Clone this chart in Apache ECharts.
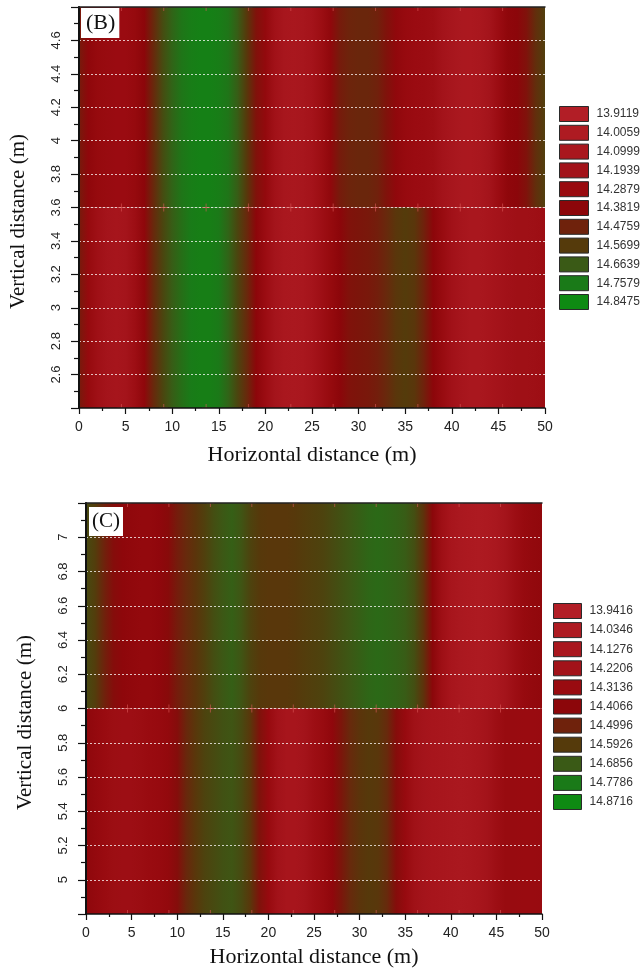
<!DOCTYPE html>
<html><head><meta charset="utf-8">
<script src="https://cdn.jsdelivr.net/npm/echarts@6/dist/echarts.min.js"></script>
<style>html,body{margin:0;padding:0;background:#fff}#c{width:641px;height:970px}</style>
</head><body><div id="c"></div>
<script>
// sample positions along the profile (m)
var xs = [0,1,2,3,4,5,6,7,8,9,10,11,12,13,14,15,16,17,18,19,20,21,22,23,24,25,26,27,28,29,30,31,32,33,34,35,36,37,38,39,40,41,42,43,44,45,46,47,48,49,50];

// panel (B): values read above / below the 3.6 m boundary
var bUpper = [14.45,14.36,14.31,14.29,14.28,14.28,14.31,14.38,14.50,14.62,
              14.69,14.74,14.77,14.79,14.79,14.77,14.74,14.67,14.56,14.42,
              14.33,14.20,14.12,14.10,14.12,14.17,14.25,14.35,14.45,14.48,
              14.49,14.49,14.47,14.42,14.35,14.30,14.28,14.27,14.24,14.18,
              14.12,14.08,14.07,14.09,14.16,14.27,14.36,14.38,14.42,14.52,
              14.58];
var bLower = [14.45,14.31,14.22,14.16,14.14,14.16,14.24,14.36,14.50,14.60,
              14.67,14.72,14.76,14.78,14.78,14.75,14.69,14.60,14.50,14.38,
              14.27,14.16,14.10,14.08,14.10,14.15,14.23,14.31,14.38,14.42,
              14.43,14.44,14.46,14.50,14.55,14.57,14.55,14.47,14.38,14.29,
              14.20,14.14,14.10,14.10,14.13,14.17,14.20,14.22,14.22,14.23,
              14.26];
// panel (C): values read above / below the 6 m boundary
var cUpper = [14.64,14.60,14.50,14.43,14.39,14.37,14.36,14.36,14.38,14.42,
              14.48,14.53,14.57,14.61,14.65,14.68,14.70,14.67,14.62,14.59,
              14.58,14.58,14.58,14.59,14.60,14.61,14.62,14.64,14.66,14.68,
              14.70,14.72,14.73,14.72,14.71,14.69,14.65,14.56,14.41,14.26,
              14.16,14.10,14.07,14.06,14.08,14.12,14.19,14.27,14.33,14.36,
              14.37];
var cLower = [14.39,14.35,14.31,14.28,14.27,14.27,14.29,14.31,14.33,14.36,
              14.43,14.52,14.58,14.62,14.64,14.66,14.67,14.64,14.58,14.45,
              14.33,14.22,14.16,14.16,14.21,14.27,14.32,14.38,14.46,14.53,
              14.57,14.59,14.58,14.53,14.43,14.33,14.24,14.19,14.16,14.14,
              14.12,14.11,14.12,14.16,14.21,14.27,14.32,14.32,14.31,14.31,
              14.32];

var bSplit = 3.6, bYMin = 2.4, bYMax = 4.8;
var cSplit = 6, cYMin = 4.8, cYMax = 7.2;
var xMin = 0, xMax = 50, xStep = 5, yStep = 0.2;

// legend levels
var bLevels = ['13.9119','14.0059','14.0999','14.1939','14.2879','14.3819','14.4759','14.5699','14.6639','14.7579','14.8475'];
var cLevels = ['13.9416','14.0346','14.1276','14.2206','14.3136','14.4066','14.4996','14.5926','14.6856','14.7786','14.8716'];
var levelColors = ['#b21e26','#ae1b22','#a9171e','#a21219','#990b10','#8c060a','#6f220c','#553a0b','#3a5a16','#1a7a18','#0e8a12'];

// cross markers (electrode / sampling positions)
var markX = [4.55,9.09,13.64,18.18,22.73,27.27,31.82,36.36,40.91,45.45];

var SANS = "'Liberation Sans', Arial, sans-serif";
var SERIF = "'Liberation Serif', 'Times New Roman', serif";

function lerpColor(t, cols) {
  if (echarts.color && echarts.color.lerp) return echarts.color.lerp(t, cols);
  var p = t * (cols.length - 1), i = Math.min(cols.length - 2, Math.floor(p)), f = p - i;
  function h(c){return [parseInt(c.substr(1,2),16),parseInt(c.substr(3,2),16),parseInt(c.substr(5,2),16)];}
  var a = h(cols[i]), b = h(cols[i+1]);
  return 'rgb(' + [0,1,2].map(function(k){return Math.round(a[k]+(b[k]-a[k])*f);}).join(',') + ')';
}
function colorFor(v, levels) {
  var lo = +levels[0], hi = +levels[levels.length - 1];
  var t = Math.max(0, Math.min(1, (v - lo) / (hi - lo)));
  return lerpColor(t, levelColors);
}
function segments(profile, yLo, yHi) {
  var out = [];
  for (var i = 0; i < xs.length - 1; i++) out.push([xs[i], xs[i+1], profile[i], profile[i+1], yLo, yHi]);
  return out;
}
function heatSeries(idx, data, levels) {
  return {
    type: 'custom', xAxisIndex: idx, yAxisIndex: idx, z: 1, clip: true, silent: true,
    encode: {x: [0, 1], y: [4, 5]},
    data: data,
    renderItem: function (params, api) {
      var p0 = api.coord([api.value(0), api.value(4)]);
      var p1 = api.coord([api.value(1), api.value(5)]);
      var c0 = colorFor(api.value(2), levels), c1 = colorFor(api.value(3), levels);
      return {
        type: 'rect',
        shape: {x: p0[0], y: p1[1], width: p1[0] - p0[0] + 1.5, height: p0[1] - p1[1]},
        style: {fill: new echarts.graphic.LinearGradient(p0[0], 0, p1[0], 0, [{offset: 0, color: c0}, {offset: 1, color: c1}], true)}
      };
    }
  };
}
function crossSeries(idx, ys) {
  var data = [];
  ys.forEach(function (y) { markX.forEach(function (x) { data.push([x, y]); }); });
  return {
    type: 'custom', xAxisIndex: idx, yAxisIndex: idx, z: 11, clip: true, silent: true,
    data: data,
    renderItem: function (params, api) {
      var p = api.coord([api.value(0), api.value(1)]);
      var st = {stroke: 'rgba(220,90,90,0.6)', lineWidth: 1};
      return {type: 'group', children: [
        {type: 'line', shape: {x1: p[0] - 4, y1: p[1], x2: p[0] + 4, y2: p[1]}, style: st},
        {type: 'line', shape: {x1: p[0], y1: p[1] - 4, x2: p[0], y2: p[1] + 4}, style: st}
      ]};
    }
  };
}
function mainX(grid) {
  return {
    type: 'value', gridIndex: grid, min: xMin, max: xMax, interval: xStep, z: 12,
    name: 'Horizontal distance (m)', nameLocation: 'middle', nameGap: grid === 0 ? 36 : 32,
    nameTextStyle: {fontFamily: SERIF, fontSize: 22, color: '#111'},
    axisLine: {show: true, lineStyle: {color: '#111', width: 1.5}},
    axisTick: {show: true, length: 6, lineStyle: {color: '#111', width: 1.2}},
    minorTick: {show: true, splitNumber: 2, length: 3, lineStyle: {color: '#111', width: 1.2}},
    axisLabel: {fontFamily: SANS, fontSize: 14, color: '#222', margin: 12},
    splitLine: {show: false}
  };
}
function borderX(grid) {
  return {type: 'value', gridIndex: grid, position: 'top', min: xMin, max: xMax, z: 12,
    axisLine: {show: true, lineStyle: {color: '#222', width: 1.5}}, axisTick: {show: false},
    axisLabel: {show: false}, splitLine: {show: false}};
}
function mainY(grid, mn, mx) {
  return {
    type: 'value', gridIndex: grid, min: mn, max: mx, interval: yStep, z: 10,
    name: 'Vertical distance (m)', nameLocation: 'middle', nameGap: 50, nameRotate: 90,
    nameTextStyle: {fontFamily: SERIF, fontSize: 21, color: '#111', padding: [0, 28, 0, 0]},
    axisLine: {show: true, lineStyle: {color: '#111', width: 1.5}},
    axisTick: {show: true, length: 8, lineStyle: {color: '#111', width: 1.2}},
    minorTick: {show: true, splitNumber: 2, length: 5, lineStyle: {color: '#111', width: 1.2}},
    axisLabel: {fontFamily: SANS, fontSize: 13, color: '#222', rotate: 90, margin: 16, showMinLabel: false, showMaxLabel: false},
    splitLine: {show: true, showMinLine: false, showMaxLine: false, lineStyle: {color: 'rgba(255,255,255,0.75)', width: 1, type: [2, 2]}}
  };
}
function borderY(grid, mn, mx) {
  return {type: 'value', gridIndex: grid, position: 'right', min: mn, max: mx, z: 12,
    axisLine: {show: true, lineStyle: {color: '#111', width: 2}}, axisTick: {show: false},
    axisLabel: {show: false}, splitLine: {show: false}};
}
function legendSeries(idx, levels) {
  return levels.map(function (name, i) {
    return {type: 'scatter', name: name, xAxisIndex: idx, yAxisIndex: idx, data: [], itemStyle: {color: levelColors[i], opacity: 1}};
  });
}
function legendCfg(levels, left, top, gap, w) {
  return {
    data: levels, orient: 'vertical', left: left, top: top, icon: 'rect', selectedMode: false,
    itemWidth: w, itemHeight: 15, itemGap: gap, padding: 0,
    itemStyle: {borderColor: '#2a2a2a', borderWidth: 1, opacity: 1},
    textStyle: {fontFamily: SANS, fontSize: 12, color: '#333', padding: [0, 0, 0, 3]}
  };
}

var chart = echarts.init(document.getElementById('c'), null, {renderer: 'canvas'});
chart.setOption({
  backgroundColor: '#fff',
  animation: false,
  title: [
    {text: '(B)', left: 81, top: 8, z: 20, padding: [4, 4, 4, 5], backgroundColor: '#fff',
     textStyle: {fontFamily: SERIF, fontSize: 22, fontWeight: 'normal', color: '#111'}},
    {text: '(C)', left: 89, top: 507, z: 20, padding: [4, 3, 4, 3], backgroundColor: '#fff',
     textStyle: {fontFamily: SERIF, fontSize: 21, fontWeight: 'normal', color: '#111'}}
  ],
  legend: [legendCfg(bLevels, 559, 106, 2.8, 29), legendCfg(cLevels, 553, 603, 3.1, 28)],
  grid: [
    {left: 75, top: 7, width: 470, height: 401},
    {left: 86, top: 503, width: 456, height: 411}
  ],
  xAxis: [mainX(0), borderX(0), mainX(1), borderX(1)],
  yAxis: [mainY(0, bYMin, bYMax), borderY(0, bYMin, bYMax), mainY(1, cYMin, cYMax), borderY(1, cYMin, cYMax)],
  series: [
    heatSeries(0, segments(bUpper, bSplit, bYMax).concat(segments(bLower, bYMin, bSplit)), bLevels),
    crossSeries(0, [bYMin, bSplit, bYMax]),
    heatSeries(2, segments(cUpper, cSplit, cYMax).concat(segments(cLower, cYMin, cSplit)), cLevels),
    crossSeries(2, [cYMin, cSplit, cYMax])
  ].concat(legendSeries(0, bLevels)).concat(legendSeries(2, cLevels))
});
</script></body></html>
